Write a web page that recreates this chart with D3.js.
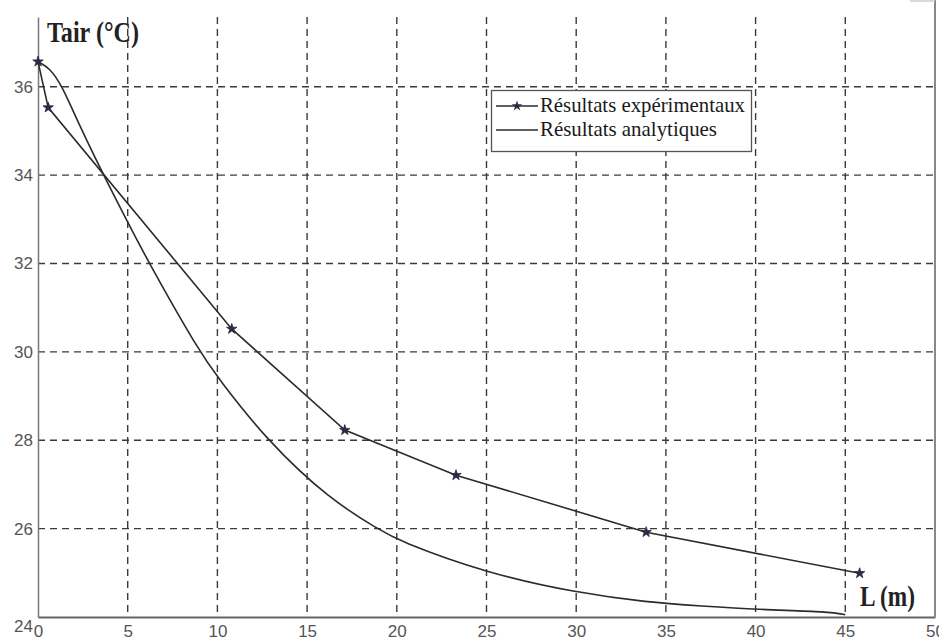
<!DOCTYPE html>
<html>
<head>
<meta charset="utf-8">
<script src="https://cdn.jsdelivr.net/npm/d3@7"></script>
<style>
  body { margin: 0; background: #fff; }
  svg { display: block; }
</style>
</head>
<body>
<svg width="939" height="641"></svg>
<script>
// Data
var expL = [0, 0.57, 10.8, 17.1, 23.3, 33.9, 45.8];
var expT = [36.57, 35.53, 30.52, 28.23, 27.21, 25.92, 24.99];

var anaL = [0, 0.67, 1.32, 2.34, 3.68, 5.03, 6.24, 8.94, 10.05, 12.75, 16.28, 19.06, 20, 25, 30, 34, 37, 40, 44.2, 45];
var anaT = [36.57, 36.42, 36.04, 35.1, 33.98, 32.91, 31.97, 30.04, 29.4, 28.0, 26.65, 25.97, 25.74, 24.99, 24.55, 24.33, 24.25, 24.17, 24.12, 24.05];

var xTicks = [0, 5, 10, 15, 20, 25, 30, 35, 40, 45, 50];
var yTicks = [24, 26, 28, 30, 32, 34, 36];
var legendLabels = ["Résultats expérimentaux", "Résultats analytiques"];

// The svg
var svg = d3.select("svg");

svg.append("rect")
  .attr("width", 939)
  .attr("height", 641)
  .attr("fill", "#fff");

// Scales
var x = d3.scaleLinear().domain([0, 50]).range([38, 935]);
var y = d3.scaleLinear().domain([24, 37.58]).range([617, 17]);

// Dashed grid
var grid = svg.append("g")
  .attr("stroke", "#3a3a3a")
  .attr("stroke-width", 1.4)
  .attr("stroke-dasharray", "7,5");

grid.selectAll("line.v")
  .data(xTicks.filter(function (d) { return d > 0 && d < 50; }))
  .enter().append("line")
    .attr("class", "v")
    .attr("x1", function (d) { return x(d); })
    .attr("x2", function (d) { return x(d); })
    .attr("y1", y.range()[1])
    .attr("y2", y.range()[0]);

grid.selectAll("line.h")
  .data(yTicks.filter(function (d) { return d > 24; }))
  .enter().append("line")
    .attr("class", "h")
    .attr("x1", x.range()[0])
    .attr("x2", x.range()[1])
    .attr("y1", function (d) { return y(d); })
    .attr("y2", function (d) { return y(d); });

// Axes
var yAxis = svg.append("g")
  .attr("transform", "translate(" + x(0) + ",0)")
  .call(d3.axisLeft(y).tickValues(yTicks).tickSize(0).tickPadding(5).tickFormat(d3.format("d")));

var xAxis = svg.append("g")
  .attr("transform", "translate(0," + y(24) + ")")
  .call(d3.axisBottom(x).tickValues(xTicks).tickSize(0).tickPadding(8).tickFormat(d3.format("d")));

yAxis.select(".domain").attr("stroke", "#777").attr("stroke-width", 1.5);
xAxis.select(".domain").attr("stroke", "#666").attr("stroke-width", 2);

svg.selectAll(".tick text")
  .attr("font-family", "'Liberation Sans', Arial, sans-serif")
  .attr("font-size", 17)
  .attr("fill", "#555");

// the bottom "24" sits a little below the axis line
yAxis.selectAll(".tick text")
  .attr("dy", function (d) { return d === 24 ? "0.85em" : "0.32em"; });

// right frame
svg.append("line")
  .attr("x1", x(50)).attr("x2", x(50))
  .attr("y1", 0).attr("y2", y(24))
  .attr("stroke", "#888")
  .attr("stroke-width", 2);

svg.append("line")
  .attr("x1", x(50) - 25).attr("x2", x(50))
  .attr("y1", 1).attr("y2", 1)
  .attr("stroke", "#ccc")
  .attr("stroke-width", 1.5);

// Curves
var line = d3.line()
  .x(function (d) { return x(d[0]); })
  .y(function (d) { return y(d[1]); });

svg.append("path")
  .datum(d3.zip(anaL, anaT))
  .attr("fill", "none")
  .attr("stroke", "#2b2b2b")
  .attr("stroke-width", 1.6)
  .attr("d", line.curve(d3.curveBasis));

svg.append("path")
  .datum(d3.zip(expL, expT))
  .attr("fill", "none")
  .attr("stroke", "#2b2b2b")
  .attr("stroke-width", 1.6)
  .attr("d", line.curve(d3.curveLinear));

var star = d3.symbol().type(d3.symbolStar).size(34);

svg.selectAll("path.mk")
  .data(d3.zip(expL, expT))
  .enter().append("path")
    .attr("class", "mk")
    .attr("transform", function (d) { return "translate(" + x(d[0]) + "," + y(d[1]) + ")"; })
    .attr("d", star)
    .attr("fill", "#2a2a44")
    .attr("stroke", "#2a2a44")
    .attr("stroke-width", 0.8);

// Legend
var legend = svg.append("g");

legend.append("rect")
  .attr("x", 491.5).attr("y", 90.5)
  .attr("width", 260).attr("height", 61)
  .attr("fill", "#fff")
  .attr("stroke", "#555")
  .attr("stroke-width", 1.3);

var rows = legend.selectAll("g.row")
  .data(legendLabels)
  .enter().append("g")
    .attr("class", "row")
    .attr("transform", function (d, i) { return "translate(0," + (106 + i * 24) + ")"; });

rows.append("line")
  .attr("x1", 496).attr("x2", 538)
  .attr("stroke", "#2b2b2b")
  .attr("stroke-width", 1.6);

rows.filter(function (d, i) { return i === 0; })
  .append("path")
    .attr("transform", "translate(517,0)")
    .attr("d", star)
    .attr("fill", "#2a2a44");

rows.append("text")
  .attr("x", 540)
  .attr("y", 6)
  .attr("font-family", "'Liberation Serif', 'Times New Roman', serif")
  .attr("font-size", 21)
  .attr("fill", "#1a1a1a")
  .attr("textLength", function (d, i) { return i === 0 ? 205 : 177; })
  .attr("lengthAdjust", "spacingAndGlyphs")
  .text(function (d) { return d; });

// Axis titles
svg.append("text")
  .attr("x", 47)
  .attr("y", 42)
  .attr("font-family", "'Liberation Serif', 'Times New Roman', serif")
  .attr("font-weight", "bold")
  .attr("font-size", 29)
  .attr("fill", "#222")
  .attr("textLength", 92)
  .attr("lengthAdjust", "spacingAndGlyphs")
  .text("Tair (°C)");

svg.append("text")
  .attr("x", 860)
  .attr("y", 606)
  .attr("font-family", "'Liberation Serif', 'Times New Roman', serif")
  .attr("font-weight", "bold")
  .attr("font-size", 29)
  .attr("fill", "#222")
  .attr("textLength", 55)
  .attr("lengthAdjust", "spacingAndGlyphs")
  .text("L (m)");
</script>
</body>
</html>
